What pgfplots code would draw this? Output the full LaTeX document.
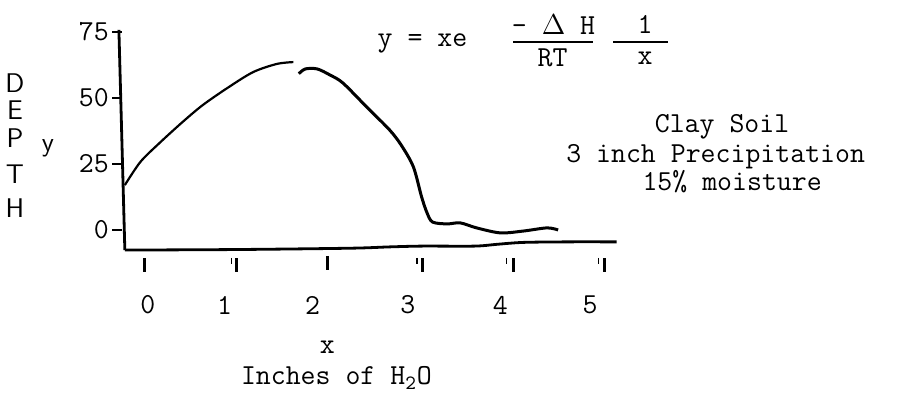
\documentclass[border=0pt]{standalone}
\usepackage{fontspec}
\usepackage{pgfplots}
\pgfplotsset{compat=1.18}
\newcommand{\tw}{\ttfamily\fontsize{14.5}{13.5}\selectfont}
\newcommand{\hw}{\sffamily\fontsize{13.5}{13.5}\selectfont}

\begin{document}
\begin{tikzpicture}
\begin{axis}[anchor=origin, at={(0pt,0pt)}, x=45.8pt, y=1.32pt,
  xmin=-0.25, xmax=5.2, ymin=-7.6, ymax=76,
  axis lines=left, axis line style={draw=none}, clip=false,
  ytick={0,25,50,75},
  xtick={0.03,0.87,1.83,2.87,3.88,4.86}, xticklabels={0,1,2,3,4,5},
  tick align=outside, major tick length=5pt,
  ytick style={line width=1.2pt, black}, xtick style={draw=none},
  tick label style={font=\tw, /pgf/number format/assume math mode=true},
  yticklabel style={anchor=east, inner sep=0pt, xshift=-1.5pt},
  xticklabel style={anchor=center, inner sep=0pt, yshift=-22.5pt}]
% hand drawn axis lines
\addplot[black, line width=1.4pt] coordinates {(-0.285,75.8) (-0.22,-7.6)};
\addplot[black, line width=1.4pt, smooth] coordinates {(-0.22,-7.6) (1.0,-7.4) (2.24,-6.9) (2.67,-6.4) (3.03,-6.1) (3.6,-6.1) (3.85,-5.4) (4.13,-4.7) (4.6,-4.5) (5.15,-4.5)};
% detached tick marks under the x axis
\addplot[only marks, mark=|, mark size=3.5pt, line width=1.5pt] coordinates {(0,-13.3) (1.0,-13.3) (1.99,-12.5) (3.03,-13.3) (4.02,-13.3) (5.02,-13.3)};
\addplot[only marks, mark=|, mark size=1.5pt, line width=0.6pt] coordinates {(0.94,-11.7) (2.97,-11.7) (3.95,-11.7) (4.95,-11.7)};
% the curve, in two strokes
\addplot[black, line width=1.1pt, smooth] coordinates {(-0.22,17.0) (-0.05,25.8) (0.16,33.0) (0.41,40.9) (0.63,47.3) (0.90,53.8) (1.18,59.8) (1.44,62.9) (1.62,63.6)};
\addplot[black, line width=1.5pt, smooth] coordinates {(1.68,59.2) (1.75,61.0) (1.88,61.0) (2.02,58.7) (2.16,55.7) (2.42,46.6) (2.67,37.9) (2.80,32.0) (2.93,23.9) (3.02,12.5) (3.08,6.4) (3.14,3.0) (3.30,2.3) (3.44,2.7) (3.62,0.8) (3.88,-1.1) (4.13,-0.4) (4.39,0.8) (4.51,0.0)};
% labels
\node[font=\hw, inner sep=0pt] at (axis cs:-1.42,55.5) {D};
\node[font=\hw, inner sep=0pt] at (axis cs:-1.42,45.3) {E};
\node[font=\hw, inner sep=0pt] at (axis cs:-1.42,34.8) {P};
\node[font=\hw, inner sep=0pt] at (axis cs:-1.42,21.0) {T};
\node[font=\hw, inner sep=0pt] at (axis cs:-1.42,8.2) {H};
\node[font=\hw, inner sep=0pt] at (axis cs:-1.06,31.1) {y};
\node[font=\tw] at (axis cs:1.99,-44.3) {x};
\node[font=\tw] at (axis cs:2.09,-56.1) {Inches of H\textsubscript{2}O};
% formula
\node[font=\tw] at (axis cs:3.03,70.8) {y = xe};
\node[font=\tw] at (axis cs:4.46,77.7) {-~$\Delta$~H};
\draw[line width=1pt] (axis cs:4.02,71.2) -- (axis cs:4.89,71.2);
\node[font=\tw] at (axis cs:4.45,65.2) {RT};
\node[font=\tw] at (axis cs:5.46,77.7) {1};
\draw[line width=1pt] (axis cs:5.11,71.2) -- (axis cs:5.71,71.2);
\node[font=\tw] at (axis cs:5.46,65.2) {x};
% caption block
\node[font=\tw] at (axis cs:6.30,39.0) {Clay Soil};
\node[font=\tw] at (axis cs:6.23,27.7) {3 inch Precipitation};
\node[font=\tw] at (axis cs:6.41,18.2) {15\% moisture};
\end{axis}
\pgfresetboundingbox
\path[use as bounding box] (-72.5pt,-84.5pt) rectangle (376pt,115pt);
\end{tikzpicture}
\end{document}
